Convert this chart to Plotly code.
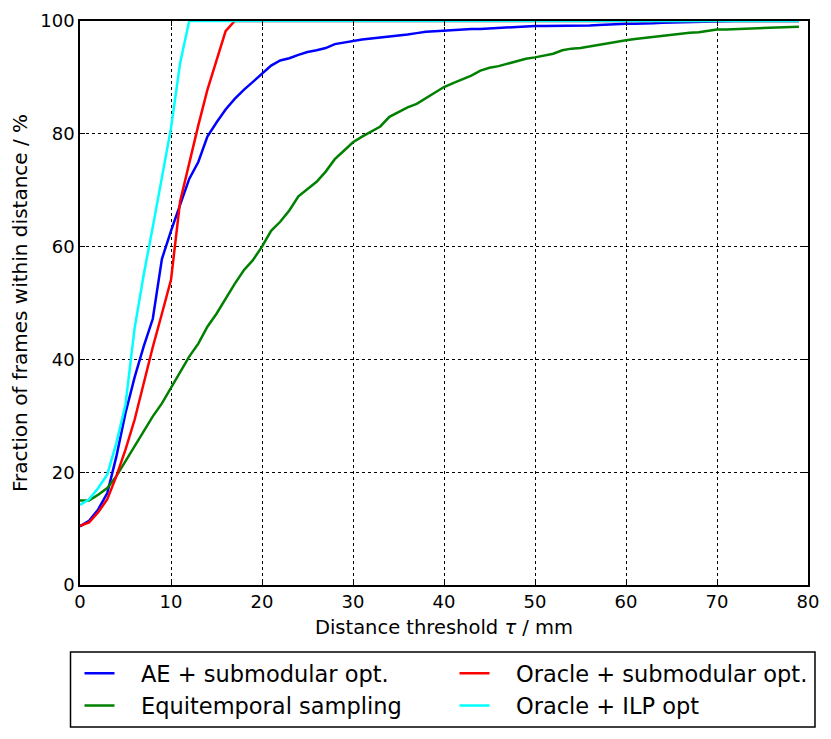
import plotly.graph_objects as go

x_mm = list(range(0, 80))

ae_submodular = [10.4, 11.4, 13.4, 16.3, 22.8, 30.5, 36.8, 42.3, 47.2, 57.8,
                 62.8, 67.5, 72.0, 75.0, 79.5, 82.0, 84.3, 86.2, 87.8, 89.2,
                 90.7, 92.1, 93.0, 93.4, 94.0, 94.5, 94.8, 95.2, 95.9, 96.2,
                 96.45, 96.7, 96.9, 97.05, 97.2, 97.4, 97.6, 97.85, 98.1, 98.2,
                 98.3, 98.45, 98.6, 98.6, 98.6, 98.7, 98.8, 98.9, 99.0, 99.05,
                 99.1, 99.1, 99.1, 99.1, 99.1, 99.15, 99.2, 99.3, 99.4, 99.45,
                 99.5, 99.5, 99.5, 99.6, 99.7, 99.75, 99.8, 99.85, 99.9, 99.95,
                 100, 100, 100, 100, 100, 100, 100, 100, 100, 100]

equitemporal = [15.0, 15.0, 16.0, 17.2, 19.3, 22.0, 24.6, 27.2, 29.9, 32.2,
                34.9, 37.8, 40.5, 42.8, 45.8, 48.1, 50.8, 53.4, 55.8, 57.6,
                60.0, 62.8, 64.4, 66.4, 68.9, 70.2, 71.5, 73.3, 75.5, 77.0,
                78.5, 79.5, 80.4, 81.3, 83.0, 83.8, 84.7, 85.3, 86.3, 87.3,
                88.3, 89.0, 89.7, 90.3, 91.2, 91.7, 92.0, 92.4, 92.8, 93.3,
                93.55, 93.9, 94.2, 94.8, 95.1, 95.2, 95.5, 95.8, 96.1, 96.3,
                96.6, 96.8, 97.0, 97.2, 97.3, 97.6, 97.8, 97.9, 98.0, 98.2,
                98.5, 98.5, 98.55, 98.6, 98.65, 98.7, 98.8, 98.85, 98.9, 99.0]

oracle_submodular = [10.5, 11.1, 12.9, 15.2, 19.3, 24.0, 29.3, 35.8, 42.2, 48.1,
                     54.1, 68.0, 75.0, 81.5, 87.8, 93.0, 98.2] + [100] * 63

oracle_ilp = [14.2, 15.2, 17.2, 19.6, 25.2, 32.0, 45.5, 55.0, 63.5, 72.0,
              81.0, 92.5] + [100] * 68

x_ticks = [0, 10, 20, 30, 40, 50, 60, 70, 80]
y_ticks = [0, 20, 40, 60, 80, 100]

series_names = ["AE + submodular opt.", "Equitemporal sampling",
                "Oracle + submodular opt.", "Oracle + ILP opt"]
series_values = [ae_submodular, equitemporal, oracle_submodular, oracle_ilp]
series_colors = ["#0000ff", "#008000", "#ff0000", "#00ffff"]
legend_ranks = [1, 3, 2, 4]

FONT = "DejaVu Sans"
PAD = "\u00a0" * 3  # widen gap between legend line and label

fig = go.Figure()
for name, vals, color, rank in zip(series_names, series_values,
                                   series_colors, legend_ranks):
    fig.add_trace(go.Scatter(
        x=x_mm, y=vals, mode="lines", name=PAD + name,
        line=dict(color=color, width=2.5),
        legendrank=rank,
    ))

# page has an 8px body margin; figure coords = page coords - 8
OFF = 8
W, H = 831 - OFF, 739 - OFF
L, T = 79.5 - OFF, 21 - OFF
R = 831 - 808
B = H - (585 - OFF)
pw = W - L - R
ph = H - T - B


def px_x(page_x):
    return (page_x - OFF - L) / pw


def px_y(page_y):
    return 1 - (page_y - OFF - T) / ph


axis_common = dict(
    showline=True, linecolor="black", linewidth=1.5, mirror="ticks",
    ticks="inside", ticklen=5, tickcolor="black", tickwidth=1,
    showgrid=True, gridcolor="black", gridwidth=1, griddash="dot",
    zeroline=False,
    tickfont=dict(family=FONT, size=18, color="black"),
)

fig.update_layout(
    width=W, height=H,
    margin=dict(l=L, r=R, t=T, b=B, autoexpand=False),
    paper_bgcolor="white", plot_bgcolor="white",
    font=dict(family=FONT, color="black"),
    xaxis=dict(range=[0, 80], tickvals=x_ticks, **axis_common,
               title=dict(text="Distance threshold <i>τ</i> / mm",
                          font=dict(family=FONT, size=19.5, color="black"),
                          standoff=9)),
    yaxis=dict(range=[0, 100], tickvals=y_ticks, **axis_common,
               title=dict(text="Fraction of frames within distance / %",
                          font=dict(family=FONT, size=20, color="black"),
                          standoff=8)),
    showlegend=True,
    legend=dict(
        orientation="h",
        x=px_x(79), xanchor="left",
        y=px_y(652), yanchor="top",
        entrywidth=330, entrywidthmode="pixels",
        borderwidth=0, bgcolor="rgba(0,0,0,0)",
        font=dict(family=FONT, size=22.5, color="black"),
        traceorder="normal",
    ),
    shapes=[dict(
        type="rect", xref="paper", yref="paper",
        x0=px_x(70), x1=px_x(815), y0=px_y(652), y1=px_y(727),
        line=dict(color="black", width=1.5), fillcolor="rgba(0,0,0,0)",
        layer="above",
    )],
)

fig.write_html("out.html")
